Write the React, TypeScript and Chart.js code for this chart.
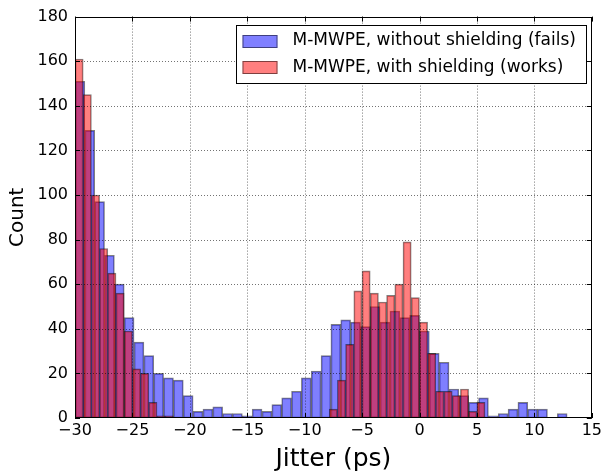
import React, { useEffect, useRef } from 'react';
import { Chart, registerables } from 'chart.js';

Chart.register(...registerables);

// ---- data ----
const binStart = -30;
const blueBinWidth = 0.857;
const redBinWidth = 0.714;

const blueCounts = [
  151, 129, 97, 73, 60, 45, 34, 28, 20, 18,
  17, 10, 3, 4, 5, 2, 2, 1, 4, 3,
  6, 9, 12, 18, 21, 28, 42, 44, 43, 41,
  50, 43, 48, 45, 46, 39, 29, 25, 13, 10,
  7, 9, 1, 2, 4, 7, 4, 4, 0, 2,
];

const redCounts = [
  161, 145, 100, 76, 65, 56, 39, 22, 20, 7,
  1, 1, 0, 0, 0, 0, 0, 0, 0, 0,
  0, 0, 0, 0, 0, 0, 0, 0, 0, 0,
  0, 4, 17, 33, 57, 66, 56, 52, 55, 60,
  79, 54, 43, 29, 12, 12, 10, 13, 3, 7,
];

const seriesLabels = [
  'M-MWPE, without shielding (fails)',
  'M-MWPE, with shielding (works)',
];
const xTitle = 'Jitter (ps)';
const yTitle = 'Count';
const xMin = -30;
const xMax = 15;
const xStep = 5;
const yMin = 0;
const yMax = 180;
const yStep = 20;

const FONT = 'DejaVu Sans';

const overlayPlugin = {
  id: 'mplOverlay',
  afterDatasetsDraw(chart: any) {
    const { ctx, chartArea: a, scales } = chart;
    const xs = scales.x;
    const ys = scales.y;
    // dotted grid over bars
    ctx.save();
    ctx.beginPath();
    ctx.rect(a.left, a.top, a.right - a.left, a.bottom - a.top);
    ctx.clip();
    ctx.strokeStyle = 'rgba(0,0,0,0.55)';
    ctx.lineWidth = 1;
    ctx.setLineDash([1, 2]);
    xs.ticks.forEach((t: any) => {
      const px = Math.round(xs.getPixelForValue(t.value)) + 0.5;
      ctx.beginPath();
      ctx.moveTo(px, a.top);
      ctx.lineTo(px, a.bottom);
      ctx.stroke();
    });
    ys.ticks.forEach((t: any) => {
      const py = Math.round(ys.getPixelForValue(t.value)) + 0.5;
      ctx.beginPath();
      ctx.moveTo(a.left, py);
      ctx.lineTo(a.right, py);
      ctx.stroke();
    });
    ctx.restore();

    // inward tick marks and frame
    ctx.save();
    ctx.strokeStyle = '#000';
    ctx.lineWidth = 1;
    const tl = 5;
    xs.ticks.forEach((t: any) => {
      const px = Math.round(xs.getPixelForValue(t.value)) + 0.5;
      ctx.beginPath();
      ctx.moveTo(px, a.bottom);
      ctx.lineTo(px, a.bottom - tl);
      ctx.moveTo(px, a.top);
      ctx.lineTo(px, a.top + tl);
      ctx.stroke();
    });
    ys.ticks.forEach((t: any) => {
      const py = Math.round(ys.getPixelForValue(t.value)) + 0.5;
      ctx.beginPath();
      ctx.moveTo(a.left, py);
      ctx.lineTo(a.left + tl, py);
      ctx.moveTo(a.right, py);
      ctx.lineTo(a.right - tl, py);
      ctx.stroke();
    });
    ctx.strokeRect(
      Math.round(a.left) + 0.5,
      Math.round(a.top) + 0.5,
      Math.round(a.right) - Math.round(a.left) - 1,
      Math.round(a.bottom) - Math.round(a.top) - 1
    );
    ctx.restore();
  },
  afterDraw(chart: any) {
    const { ctx, chartArea: a } = chart;
    const ds = chart.data.datasets;
    ctx.save();
    ctx.font = `17px "${FONT}"`;
    const textW = Math.max(...ds.map((d: any) => ctx.measureText(d.label).width));
    const padL = 6.5;
    const swW = 35;
    const swH = 13;
    const gap = 15;
    const padR = 10;
    const boxW = padL + swW + gap + textW + padR;
    const boxH = 58;
    const right = Math.round(a.right - 5.5);
    const left = Math.round(right - boxW);
    const top = Math.round(a.top + 8);
    ctx.fillStyle = '#fff';
    ctx.fillRect(left, top, right - left, boxH);
    ctx.strokeStyle = '#000';
    ctx.lineWidth = 1;
    ctx.strokeRect(left + 0.5, top + 0.5, right - left, boxH);
    const rowY = [top + 16, top + 42.5];
    ds.forEach((d: any, i: number) => {
      const cy = rowY[i];
      const sx = left + padL;
      const sy = Math.round(cy - swH / 2);
      ctx.fillStyle = d.backgroundColor;
      ctx.fillRect(sx, sy, swW, swH);
      ctx.strokeStyle = 'rgba(0,0,0,0.5)';
      ctx.strokeRect(sx + 0.5, sy + 0.5, swW - 1, swH - 1);
      ctx.fillStyle = '#000';
      ctx.textBaseline = 'middle';
      ctx.textAlign = 'left';
      ctx.fillText(d.label, sx + swW + gap, cy);
    });
    ctx.restore();
  },
};

export default function App() {
  const ref = useRef<HTMLCanvasElement>(null);

  useEffect(() => {
    const canvas = ref.current;
    if (!canvas) return;
    const blueData = blueCounts.map((c, i) => ({ x: binStart + (i + 0.5) * blueBinWidth, y: c }));
    const redData = redCounts.map((c, i) => ({ x: binStart + (i + 0.5) * redBinWidth, y: c }));

    const tickFont = { family: FONT, size: 16 };
    const chart = new Chart(canvas, {
      type: 'bar',
      data: {
        datasets: [
          {
            label: seriesLabels[0],
            data: blueData as any,
            xAxisID: 'x',
            backgroundColor: 'rgba(0,0,255,0.5)',
            borderColor: 'rgba(0,0,0,0.5)',
            borderWidth: 1,
            borderSkipped: false,
            barPercentage: 1,
            categoryPercentage: 1,
            grouped: false,
            order: 2,
          } as any,
          {
            label: seriesLabels[1],
            data: redData as any,
            xAxisID: 'x2',
            backgroundColor: 'rgba(255,0,0,0.5)',
            borderColor: 'rgba(0,0,0,0.5)',
            borderWidth: 1,
            borderSkipped: false,
            barPercentage: 1,
            categoryPercentage: 1,
            grouped: false,
            order: 1,
          } as any,
        ],
      },
      options: {
        responsive: false,
        animation: false,
        devicePixelRatio: 1,
        layout: { padding: { top: 16, right: 13, left: 0, bottom: 0 } },
        plugins: {
          legend: { display: false },
          tooltip: { enabled: false },
        },
        scales: {
          x: {
            type: 'linear',
            position: 'bottom',
            offset: false,
            min: xMin,
            max: xMax,
            grid: { display: false, drawTicks: false, offset: false },
            border: { display: false },
            ticks: {
              stepSize: xStep,
              padding: 3,
              color: '#000',
              font: tickFont,
              autoSkip: false,
              maxRotation: 0,
              callback: (v: any) => (Number(v) < 0 ? '\u2212' + Math.abs(Number(v)) : String(v)),
            },
            title: {
              display: true,
              text: xTitle,
              color: '#000',
              font: { family: FONT, size: 25, lineHeight: 1 },
              padding: { top: 0, bottom: 4.5 },
            },
            afterFit: (s: any) => {
              s.height = 58;
            },
          },
          x2: {
            type: 'linear',
            position: 'bottom',
            display: false,
            offset: false,
            grid: { offset: false },
            min: xMin,
            max: xMax,
          },
          y: {
            type: 'linear',
            min: yMin,
            max: yMax,
            grid: { display: false, drawTicks: false },
            border: { display: false },
            ticks: {
              stepSize: yStep,
              padding: 7,
              color: '#000',
              font: tickFont,
            },
            title: {
              display: true,
              text: yTitle,
              color: '#000',
              font: { family: FONT, size: 20, lineHeight: 1 },
              padding: { top: 7.5, bottom: 0 },
            },
            afterFit: (s: any) => {
              s.width = 75;
            },
          },
        } as any,
      },
      plugins: [overlayPlugin],
    });
    return () => chart.destroy();
  }, []);

  return (
    <canvas
      ref={ref}
      width={605}
      height={476}
      style={{ position: 'fixed', left: 0, top: 0, width: 605, height: 476 }}
    />
  );
}
